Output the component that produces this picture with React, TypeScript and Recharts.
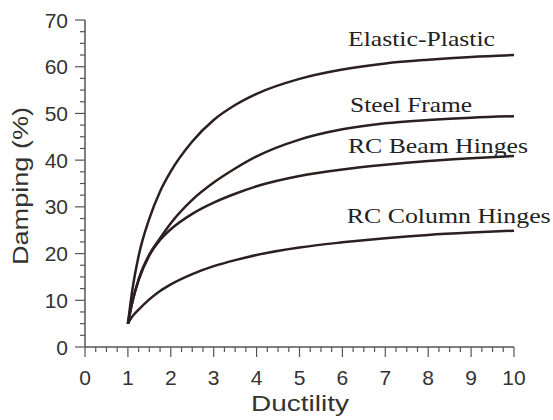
import { LineChart, Line, XAxis, YAxis, ReferenceDot } from 'recharts'

/* ── Damping vs ductility curves ─────────────────────────────────── */

const ductility = [1, 1.1, 1.25, 1.5, 1.75, 2, 2.5, 3, 3.5, 4, 5, 6, 7, 8, 9, 10]
const elasticPlastic = [5, 12, 19.5, 27.5, 33.3, 37.6, 44, 48.6, 51.8, 54.2, 57.4, 59.4, 60.7, 61.5, 62.1, 62.5]
const steelFrame = [5, 9.5, 14.5, 19.8, 23.3, 26.5, 31.5, 35.2, 38.2, 40.8, 44.4, 46.6, 47.9, 48.6, 49.1, 49.4]
const rcBeamHinges = [5, 9.5, 14.3, 19.6, 22.9, 25.2, 28.5, 30.9, 32.8, 34.4, 36.6, 38, 39, 39.8, 40.4, 40.9]
const rcColumnHinges = [5, 6.5, 8, 10.2, 12, 13.4, 15.6, 17.3, 18.6, 19.7, 21.3, 22.4, 23.3, 24, 24.5, 24.9]

const xMajor = [0, 1, 2, 3, 4, 5, 6, 7, 8, 9, 10]
const yMajor = [0, 10, 20, 30, 40, 50, 60, 70]

// curve labels, anchored in data units (left edge, baseline)
const curveLabels = [
  { text: 'Elastic-Plastic', x: 6.13, y: 64.4, width: 147 },
  { text: 'Steel Frame', x: 6.18, y: 50.4, width: 122 },
  { text: 'RC Beam Hinges', x: 6.13, y: 41.6, width: 180 },
  { text: 'RC Column Hinges', x: 6.1, y: 26.6, width: 204 },
]

const rows = ductility.map((mu, i) => ({
  mu,
  ep: elasticPlastic[i],
  steel: steelFrame[i],
  beam: rcBeamHinges[i],
  column: rcColumnHinges[i],
}))

// minor ticks every quarter unit on x, every 2.5 % on y
const xTicks = Array.from({ length: 41 }, (_, i) => i * 0.25)
const yTicks = Array.from({ length: 29 }, (_, i) => i * 2.5)

const INK = '#2b1f1f'
const AXIS = '#555'
const SANS = '"Liberation Sans", Arial, sans-serif'
const SERIF = '"Liberation Serif", "Times New Roman", serif'

function XTick({ x, y, payload }: any) {
  const v = payload.value as number
  const major = xMajor.includes(v)
  return (
    <g>
      <line x1={x} y1={y} x2={x} y2={y + (major ? 10 : 5)} stroke={AXIS} strokeWidth={1.2} />
      {major && (
        <text x={x} y={y + 38} textAnchor="middle" fontSize={21} fontFamily={SANS} fill="#333">
          {v}
        </text>
      )}
    </g>
  )
}

function YTick({ x, y, payload }: any) {
  const v = payload.value as number
  const major = yMajor.includes(v)
  return (
    <g>
      <line x1={x} y1={y} x2={x - (major ? 10 : 5)} y2={y} stroke={AXIS} strokeWidth={1.2} />
      {major && (
        <text x={x - 17} y={y + 7.5} textAnchor="end" fontSize={21} fontFamily={SANS} fill="#333">
          {v}
        </text>
      )}
    </g>
  )
}

function CurveLabel({ viewBox, text, width }: any) {
  const { x, y } = viewBox
  return (
    <text
      x={x}
      y={y}
      fontSize={22}
      fontFamily={SERIF}
      fill="#222"
      textLength={width}
      lengthAdjust="spacingAndGlyphs"
    >
      {text}
    </text>
  )
}

export default function App() {
  return (
    <div style={{ position: 'absolute', left: 0, top: 0, width: 553, height: 420, background: '#fff' }}>
      <LineChart width={553} height={420} data={rows} margin={{ top: 20, right: 39, left: 0, bottom: 0 }}>
        <XAxis
          dataKey="mu"
          type="number"
          domain={[0, 10]}
          ticks={xTicks}
          interval={0}
          tickSize={0}
          tickMargin={0}
          tickLine={false}
          tick={<XTick />}
          height={73}
          axisLine={{ stroke: AXIS, strokeWidth: 1.5 }}
          label={() => (
            <text
              x={300}
              y={411}
              textAnchor="middle"
              fontSize={22}
              fontFamily={SANS}
              fill="#333"
              textLength={98}
              lengthAdjust="spacingAndGlyphs"
            >
              Ductility
            </text>
          )}
        />
        <YAxis
          type="number"
          domain={[0, 70]}
          ticks={yTicks}
          interval={0}
          tickSize={0}
          tickMargin={0}
          tickLine={false}
          tick={<YTick />}
          width={85}
          axisLine={{ stroke: AXIS, strokeWidth: 1.5 }}
          label={() => (
            <text
              x={20}
              y={186}
              transform="rotate(-90 20 186)"
              textAnchor="middle"
              dominantBaseline="central"
              fontSize={22}
              fontFamily={SANS}
              fill="#333"
              textLength={158}
              lengthAdjust="spacingAndGlyphs"
            >
              Damping (%)
            </text>
          )}
        />
        <Line dataKey="ep" type="monotone" stroke={INK} strokeWidth={2.5} dot={false} isAnimationActive={false} />
        <Line dataKey="steel" type="monotone" stroke={INK} strokeWidth={2.5} dot={false} isAnimationActive={false} />
        <Line dataKey="beam" type="monotone" stroke={INK} strokeWidth={2.5} dot={false} isAnimationActive={false} />
        <Line dataKey="column" type="monotone" stroke={INK} strokeWidth={2.5} dot={false} isAnimationActive={false} />
        {curveLabels.map((l) => (
          <ReferenceDot
            key={l.text}
            x={l.x}
            y={l.y}
            r={0}
            stroke="none"
            fill="none"
            label={<CurveLabel text={l.text} width={l.width} />}
          />
        ))}
      </LineChart>
    </div>
  )
}
